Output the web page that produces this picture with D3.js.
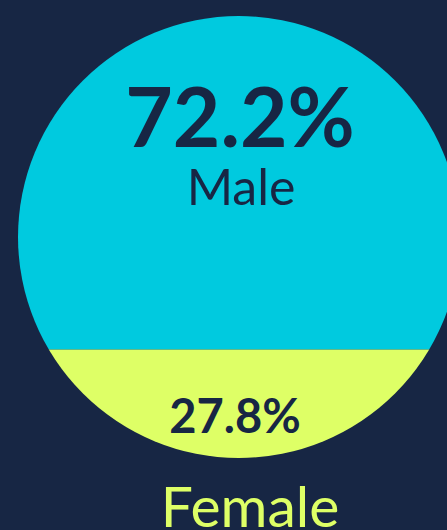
<!DOCTYPE html>
<html><head><meta charset="utf-8">
<script src="https://cdn.jsdelivr.net/npm/d3@7"></script>
<style>html,body{margin:0;padding:0;background:#172644;overflow:hidden}</style>
</head><body>
<svg id="c" width="447" height="530"></svg>
<script>
const categories = ["Male", "Female"];
const values = [72.2, 27.8];
const colors = ["#00cadf", "#deff66"];

const W = 447, H = 530;
const svg = d3.select("#c");
svg.append("rect").attr("width", W).attr("height", H).attr("fill", "#172644");

const cx = 239, cy = 237, r = 221;
// level scale: percent of female share -> y of split line
const level = d3.scaleLinear().domain([0, 100]).range([cy + r + 20, cy - r]);
const splitY = level(values[1]);

const defs = svg.append("defs");
defs.append("clipPath").attr("id", "circ")
  .append("circle").attr("cx", cx).attr("cy", cy).attr("r", r);

const g = svg.append("g").attr("clip-path", "url(#circ)");
g.append("rect").attr("x", cx - r).attr("y", cy - r).attr("width", 2 * r).attr("height", splitY - (cy - r)).attr("fill", colors[0]);
g.append("rect").attr("x", cx - r).attr("y", splitY).attr("width", 2 * r).attr("height", cy + r - splitY).attr("fill", colors[1]);

const fmt = v => d3.format(".1f")(v) + "%";
const font = "Lato, 'DejaVu Sans', sans-serif";

svg.append("text").attr("x", 240).attr("y", 147).attr("text-anchor", "middle")
  .attr("font-family", font).attr("font-weight", 700).attr("font-size", 82)
  .attr("fill", "#172644").text(fmt(values[0]));
svg.append("text").attr("x", 241).attr("y", 205).attr("text-anchor", "middle")
  .attr("font-family", font).attr("font-weight", 400).attr("font-size", 50)
  .attr("fill", "#172644").text(categories[0]);
svg.append("text").attr("x", 235).attr("y", 433).attr("text-anchor", "middle")
  .attr("font-family", font).attr("font-weight", 700).attr("font-size", 47)
  .attr("fill", "#172644").text(fmt(values[1]));
svg.append("text").attr("x", 250).attr("y", 527).attr("text-anchor", "middle")
  .attr("font-family", font).attr("font-weight", 400).attr("font-size", 57)
  .attr("fill", colors[1]).text(categories[1]);
</script>
</body></html>
